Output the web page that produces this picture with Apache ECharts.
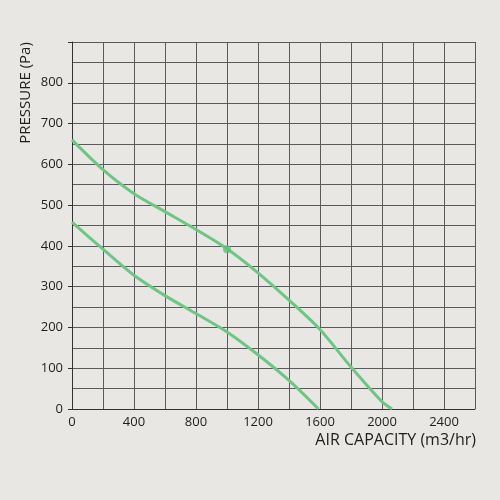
<!DOCTYPE html>
<html>
<head>
<meta charset="utf-8">
<script src="https://cdn.jsdelivr.net/npm/echarts@6/dist/echarts.min.js"></script>
<style>
  html, body { margin: 0; padding: 0; background: #e9e7e3; }
  #chart { width: 500px; height: 500px; }
</style>
</head>
<body>
<div id="chart"></div>
<script>
  // upper curve (air capacity m3/hr, pressure Pa)
  var upperFlow = [0, 200, 400, 600, 800, 1000, 1200, 1400, 1600, 1800, 2000, 2065];
  var upperPres = [660, 587, 528, 484, 440, 393, 334, 267, 195, 103, 18, 0];
  // lower curve
  var lowerFlow = [0, 200, 400, 600, 800, 1000, 1200, 1400, 1590];
  var lowerPres = [458, 392, 328, 278, 234, 189, 133, 70, 0];
  // marked point
  var markPoint = [1000, 392];

  var toPairs = function (xs, ys) {
    return xs.map(function (x, i) { return [x, ys[i]]; });
  };

  var chart = echarts.init(document.getElementById('chart'));
  var gridColor = '#5a5a5a';
  var textColor = '#1e1e1e';
  var font = 'Open Sans';

  chart.setOption({
    backgroundColor: '#e9e7e3',
    animation: false,
    grid: { left: 72, top: 42, right: 25, bottom: 91 },
    xAxis: {
      type: 'value',
      min: 0,
      max: 2600,
      interval: 200,
      axisLine: { show: true, lineStyle: { color: '#333', width: 1 } },
      axisTick: { show: false },
      splitLine: { show: true, lineStyle: { color: gridColor, width: 1 } },
      axisLabel: {
        color: textColor,
        fontFamily: font,
        fontSize: 13,
        margin: 7,
        formatter: function (v) { return (v % 400 === 0 && v <= 2400) ? String(v) : ''; }
      }
    },
    yAxis: {
      type: 'value',
      min: 0,
      max: 900,
      interval: 100,
      axisLine: { show: true, lineStyle: { color: '#333', width: 1 } },
      axisTick: { show: true, length: 4, lineStyle: { color: '#333' } },
      minorTick: { show: false, splitNumber: 2 },
      splitLine: { show: true, lineStyle: { color: gridColor, width: 1 } },
      minorSplitLine: { show: true, lineStyle: { color: gridColor, width: 1 } },
      axisLabel: {
        color: textColor,
        fontFamily: font,
        fontSize: 13,
        margin: 9,
        formatter: function (v) { return v < 900 ? String(v) : ''; }
      }
    },
    graphic: [
      {
        type: 'text',
        x: 26,
        y: 93,
        rotation: Math.PI / 2,
        style: {
          text: 'PRESSURE (Pa)',
          fill: textColor,
          font: '15px "Open Sans"',
          align: 'center',
          verticalAlign: 'middle'
        }
      },
      {
        type: 'text',
        x: 476,
        y: 440,
        style: {
          text: 'AIR CAPACITY (m3/hr)',
          fill: textColor,
          font: '16px "Open Sans"',
          align: 'right',
          verticalAlign: 'middle'
        }
      }
    ],
    series: [
      {
        name: 'upper',
        type: 'line',
        smooth: 0.3,
        showSymbol: false,
        color: '#6cc784',
        lineStyle: { width: 3, color: '#6cc784' },
        data: toPairs(upperFlow, upperPres)
      },
      {
        name: 'lower',
        type: 'line',
        smooth: 0.3,
        showSymbol: false,
        color: '#6cc784',
        lineStyle: { width: 3, color: '#6cc784' },
        data: toPairs(lowerFlow, lowerPres)
      },
      {
        name: 'point',
        type: 'scatter',
        symbolSize: 8,
        itemStyle: { color: '#5fbf78' },
        z: 5,
        data: [markPoint]
      }
    ]
  });
</script>
</body>
</html>
